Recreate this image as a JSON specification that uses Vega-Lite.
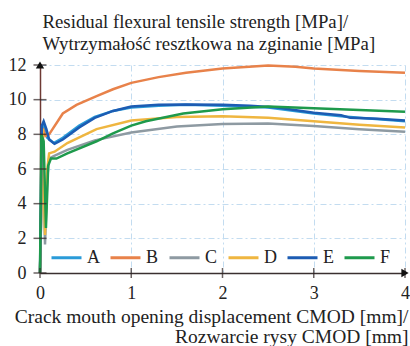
{
  "$schema": "https://vega.github.io/schema/vega-lite/v6.json",
  "width": 365,
  "height": 208,
  "autosize": {"type": "none"},
  "padding": {"left": 40, "top": 65, "right": 5, "bottom": 73},
  "background": "white",
  "config": {
    "view": {"stroke": null},
    "font": "Liberation Serif",
    "style": {
      "guide-label": {"font": "Liberation Serif", "fontSize": 18, "fill": "#222222"},
      "guide-title": {"font": "Liberation Serif", "fontWeight": "normal", "fill": "#222222"}
    }
  },
  "datasets": {
    "curves": [
      {"s": "A", "x": 0, "y": 0}, {"s": "A", "x": 0.03, "y": 8.6}, {"s": "A", "x": 0.05, "y": 8.4}, {"s": "A", "x": 0.08, "y": 7.8}, {"s": "A", "x": 0.15, "y": 7.5}, {"s": "A", "x": 0.25, "y": 7.8}, {"s": "A", "x": 0.43, "y": 8.5}, {"s": "A", "x": 0.6, "y": 9.0}, {"s": "A", "x": 0.8, "y": 9.35}, {"s": "A", "x": 1.0, "y": 9.55}, {"s": "A", "x": 1.3, "y": 9.65}, {"s": "A", "x": 1.6, "y": 9.7}, {"s": "A", "x": 2.0, "y": 9.65}, {"s": "A", "x": 2.5, "y": 9.55}, {"s": "A", "x": 3.0, "y": 9.2}, {"s": "A", "x": 3.3, "y": 9.05}, {"s": "A", "x": 3.5, "y": 8.95}, {"s": "A", "x": 4.0, "y": 8.75},
      {"s": "B", "x": 0, "y": 0}, {"s": "B", "x": 0.03, "y": 8.35}, {"s": "B", "x": 0.06, "y": 7.9}, {"s": "B", "x": 0.1, "y": 8.0}, {"s": "B", "x": 0.25, "y": 9.2}, {"s": "B", "x": 0.4, "y": 9.7}, {"s": "B", "x": 0.62, "y": 10.2}, {"s": "B", "x": 0.8, "y": 10.6}, {"s": "B", "x": 1.0, "y": 10.97}, {"s": "B", "x": 1.3, "y": 11.3}, {"s": "B", "x": 1.6, "y": 11.55}, {"s": "B", "x": 2.0, "y": 11.8}, {"s": "B", "x": 2.5, "y": 11.97}, {"s": "B", "x": 2.8, "y": 11.9}, {"s": "B", "x": 3.0, "y": 11.8}, {"s": "B", "x": 3.5, "y": 11.65}, {"s": "B", "x": 4.0, "y": 11.55},
      {"s": "C", "x": 0, "y": 0}, {"s": "C", "x": 0.03, "y": 7.8}, {"s": "C", "x": 0.055, "y": 1.65}, {"s": "C", "x": 0.08, "y": 5.5}, {"s": "C", "x": 0.1, "y": 6.6}, {"s": "C", "x": 0.15, "y": 6.75}, {"s": "C", "x": 0.3, "y": 7.1}, {"s": "C", "x": 0.6, "y": 7.65}, {"s": "C", "x": 1.0, "y": 8.1}, {"s": "C", "x": 1.5, "y": 8.45}, {"s": "C", "x": 2.0, "y": 8.6}, {"s": "C", "x": 2.5, "y": 8.62}, {"s": "C", "x": 3.0, "y": 8.48}, {"s": "C", "x": 3.5, "y": 8.3}, {"s": "C", "x": 4.0, "y": 8.15},
      {"s": "D", "x": 0, "y": 0}, {"s": "D", "x": 0.03, "y": 8.3}, {"s": "D", "x": 0.055, "y": 2.2}, {"s": "D", "x": 0.08, "y": 6.0}, {"s": "D", "x": 0.1, "y": 6.9}, {"s": "D", "x": 0.16, "y": 7.0}, {"s": "D", "x": 0.3, "y": 7.5}, {"s": "D", "x": 0.62, "y": 8.3}, {"s": "D", "x": 1.0, "y": 8.8}, {"s": "D", "x": 1.5, "y": 9.0}, {"s": "D", "x": 2.0, "y": 9.05}, {"s": "D", "x": 2.5, "y": 8.95}, {"s": "D", "x": 3.0, "y": 8.75}, {"s": "D", "x": 3.5, "y": 8.55}, {"s": "D", "x": 4.0, "y": 8.4},
      {"s": "E", "x": 0, "y": 0}, {"s": "E", "x": 0.02, "y": 8.5}, {"s": "E", "x": 0.04, "y": 8.75}, {"s": "E", "x": 0.07, "y": 8.3}, {"s": "E", "x": 0.1, "y": 7.7}, {"s": "E", "x": 0.16, "y": 7.45}, {"s": "E", "x": 0.25, "y": 7.7}, {"s": "E", "x": 0.43, "y": 8.4}, {"s": "E", "x": 0.6, "y": 8.95}, {"s": "E", "x": 0.8, "y": 9.35}, {"s": "E", "x": 1.0, "y": 9.6}, {"s": "E", "x": 1.3, "y": 9.7}, {"s": "E", "x": 1.6, "y": 9.72}, {"s": "E", "x": 2.0, "y": 9.7}, {"s": "E", "x": 2.3, "y": 9.65}, {"s": "E", "x": 2.6, "y": 9.55}, {"s": "E", "x": 3.0, "y": 9.25}, {"s": "E", "x": 3.3, "y": 9.1}, {"s": "E", "x": 3.4, "y": 8.95}, {"s": "E", "x": 3.7, "y": 8.9}, {"s": "E", "x": 4.0, "y": 8.8},
      {"s": "F", "x": 0, "y": 0}, {"s": "F", "x": 0.015, "y": 8.0}, {"s": "F", "x": 0.04, "y": 7.6}, {"s": "F", "x": 0.065, "y": 2.6}, {"s": "F", "x": 0.09, "y": 6.2}, {"s": "F", "x": 0.12, "y": 6.6}, {"s": "F", "x": 0.18, "y": 6.6}, {"s": "F", "x": 0.3, "y": 6.9}, {"s": "F", "x": 0.62, "y": 7.6}, {"s": "F", "x": 0.8, "y": 8.05}, {"s": "F", "x": 1.0, "y": 8.5}, {"s": "F", "x": 1.16, "y": 8.75}, {"s": "F", "x": 1.57, "y": 9.2}, {"s": "F", "x": 2.0, "y": 9.45}, {"s": "F", "x": 2.5, "y": 9.6}, {"s": "F", "x": 3.0, "y": 9.5}, {"s": "F", "x": 3.5, "y": 9.4}, {"s": "F", "x": 4.0, "y": 9.3}
    ],
    "yticks": [{"x": 0, "y": 0}, {"x": 0, "y": 2}, {"x": 0, "y": 4}, {"x": 0, "y": 6}, {"x": 0, "y": 8}, {"x": 0, "y": 10}, {"x": 0, "y": 12}],
    "xticks": [{"x": 0, "y": 0}, {"x": 1, "y": 0}, {"x": 2, "y": 0}, {"x": 3, "y": 0}, {"x": 4, "y": 0}]
  },
  "encoding": {
    "x": {
      "field": "x", "type": "quantitative",
      "scale": {"domain": [0, 4], "nice": false},
      "axis": {
        "values": [0, 1, 2, 3, 4],
        "format": "d",
        "ticks": false,
        "domainColor": "#3a3030", "domainWidth": 1.5,
        "grid": true, "gridColor": "#c3dcf0", "gridDash": [6, 3, 2, 3], "gridWidth": 1,
        "labelFont": "Liberation Serif", "labelFontSize": 18, "labelColor": "#222222", "labelPadding": 11,
        "labelFlush": false, "labelOverlap": false,
        "encode": {"labels": {"update": {"font": {"value": "Liberation Serif"}, "fontSize": {"value": 18}}}},
        "title": ["Crack mouth opening displacement CMOD [mm]/", "Rozwarcie rysy CMOD [mm]"],
        "titleFont": "Liberation Serif", "titleFontSize": 19.5, "titleFontWeight": "normal", "titleColor": "#222222",
        "titleAlign": "right", "titleAnchor": null, "titleX": 368, "titleY": 49, "titleBaseline": "alphabetic", "titleLineHeight": 20.5
      }
    },
    "y": {
      "field": "y", "type": "quantitative",
      "scale": {"domain": [0, 12], "nice": false},
      "axis": {
        "values": [0, 2, 4, 6, 8, 10, 12],
        "format": "d",
        "ticks": false,
        "domainColor": "#6e3a34", "domainWidth": 1.5,
        "grid": true, "gridColor": "#c3dcf0", "gridDash": [6, 3, 2, 3], "gridWidth": 1,
        "labelFont": "Liberation Serif", "labelFontSize": 18, "labelColor": "#222222", "labelPadding": 14,
        "labelFlush": false, "labelOverlap": false,
        "encode": {"labels": {"update": {"font": {"value": "Liberation Serif"}, "fontSize": {"value": 18}}}},
        "title": ["Residual flexural tensile strength [MPa]/", "Wytrzymałość resztkowa na zginanie [MPa]"],
        "titleFont": "Liberation Serif", "titleFontSize": 18.8, "titleFontWeight": "normal", "titleColor": "#222222",
        "titleAngle": 0, "titleAlign": "left", "titleAnchor": null, "titleX": 2, "titleY": -38, "titleBaseline": "alphabetic", "titleLineHeight": 22
      }
    }
  },
  "layer": [
    {
      "data": {"name": "curves"},
      "mark": {"type": "line", "strokeWidth": 2.5, "clip": false},
      "encoding": {
        "color": {
          "field": "s", "type": "nominal",
          "scale": {"domain": ["A", "B", "C", "D", "E", "F"], "range": ["#2a9bd8", "#e8824a", "#8e9aa2", "#efb640", "#1c5cb3", "#1e9a4c"]},
          "legend": {
            "orient": "none", "legendX": 10, "legendY": 176, "direction": "horizontal", "columns": 6,
            "title": null, "padding": 0,
            "symbolType": "stroke", "symbolSize": 900, "symbolStrokeWidth": 3,
            "labelFont": "Liberation Serif", "labelFontSize": 18, "labelColor": "#222222", "labelOffset": 4,
            "columnPadding": 4,
            "encode": {"labels": {"update": {"font": {"value": "Liberation Serif"}, "fontSize": {"value": 18}}}}
          }
        }
      }
    },
    {
      "data": {"name": "yticks"},
      "mark": {"type": "tick", "orient": "horizontal", "size": 13, "thickness": 1.5, "color": "#2e2222"}
    },
    {
      "data": {"name": "xticks"},
      "mark": {"type": "tick", "orient": "vertical", "size": 10, "thickness": 1.5, "color": "#2e2222"}
    },
    {
      "data": {"values": [{"x": 0, "y": 12}]},
      "mark": {"type": "point", "shape": "triangle-up", "size": 70, "filled": true, "color": "#111111", "opacity": 1}
    },
    {
      "data": {"values": [{"x": 4, "y": 0}]},
      "mark": {"type": "point", "shape": "triangle-right", "size": 70, "filled": true, "color": "#111111", "opacity": 1}
    }
  ]
}
